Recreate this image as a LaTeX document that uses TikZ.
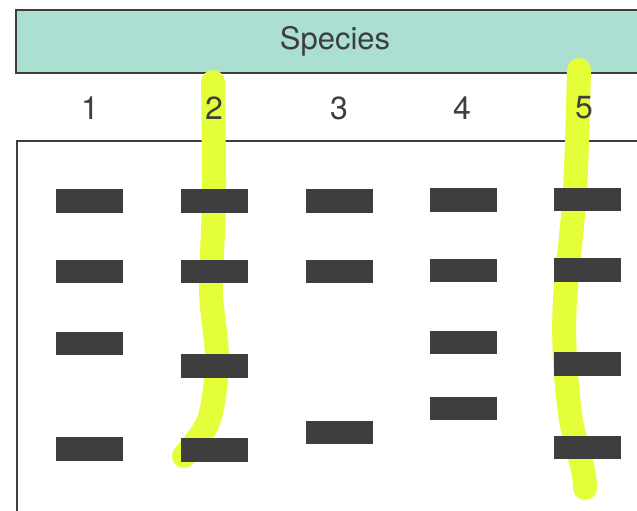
\documentclass[tikz,border=0pt]{standalone}
\usepackage{fontspec}
\setmainfont{TeX Gyre Heros}
\definecolor{bandeau}{RGB}{170,223,210}
\definecolor{trait}{RGB}{62,62,62}
\definecolor{surligneur}{RGB}{228,255,58}

\begin{document}
\begin{tikzpicture}[x=0.5pt, y=-0.5pt,
    bande/.style={fill=trait, minimum width=33.5pt, minimum height=11.8pt, inner sep=0pt},
    numero/.style={text=trait, font=\fontsize{16}{18}\selectfont},
    surligne/.style={draw=surligneur, line width=12pt, line cap=round, line join=round}]
    % Cadre de la page
    \clip (0,0) rectangle (637,510);
    \fill[white] (0,0) rectangle (637,510);

    % Bandeau du haut
    \draw[trait, line width=0.9pt, fill=bandeau] (16,10) rectangle (660,73);
    \node[text=trait, font=\fontsize{15.5}{18}\selectfont] (titre) at (335,41) {Species};

    % Cadre du gel
    \draw[trait, line width=0.9pt] (17,141) rectangle (660,512);

    % Surlignage des colonnes 2 et 5
    \draw[surligne] plot[smooth] coordinates {(213,82) (214,200) (211,290) (217,360) (209,420) (184,456)};
    \draw[surligne] plot[smooth] coordinates {(579,70) (575,190) (565,300) (565,360) (571,420) (583,470) (585,488)};

    % Numeros des especes
    \node[numero] (n1) at (90,108) {1};
    \node[numero] (n2) at (214,108) {2};
    \node[numero] (n3) at (339,108) {3};
    \node[numero] (n4) at (462,108) {4};
    \node[numero] (n5) at (584,108) {5};

    % Colonne 1
    \node[bande] (b11) at (89.5,201) {};
    \node[bande] (b12) at (89.5,271.5) {};
    \node[bande] (b13) at (89.5,343.5) {};
    \node[bande] (b14) at (89.5,449) {};

    % Colonne 2
    \node[bande] (b21) at (214.5,201) {};
    \node[bande] (b22) at (214.5,271.5) {};
    \node[bande] (b23) at (214.5,366) {};
    \node[bande] (b24) at (214.5,450) {};

    % Colonne 3
    \node[bande] (b31) at (339,201) {};
    \node[bande] (b32) at (339,271.5) {};
    \node[bande] (b33) at (339,432.5) {};

    % Colonne 4
    \node[bande] (b41) at (463,200) {};
    \node[bande] (b42) at (463,270.5) {};
    \node[bande] (b43) at (463,342.5) {};
    \node[bande] (b44) at (463,408.5) {};

    % Colonne 5
    \node[bande] (b51) at (587,199.5) {};
    \node[bande] (b52) at (587,270) {};
    \node[bande] (b53) at (587,364) {};
    \node[bande] (b54) at (587,447.5) {};
\end{tikzpicture}
\end{document}
